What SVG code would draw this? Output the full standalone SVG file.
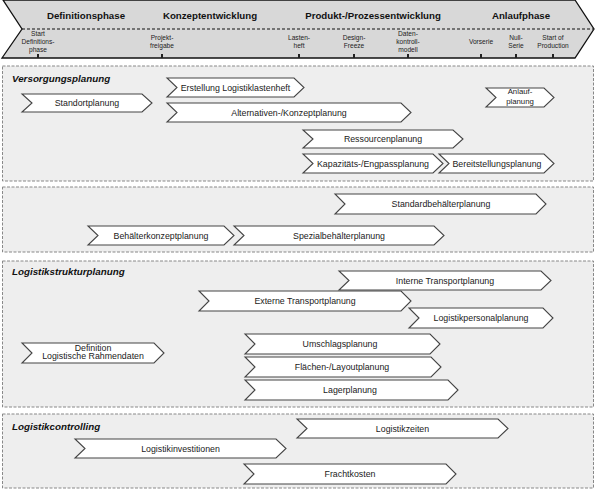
<svg xmlns="http://www.w3.org/2000/svg" width="596" height="490" viewBox="0 0 596 490">
<style>
.sec{fill:#eeeeee;stroke:#888888;stroke-width:1;stroke-dasharray:3 1.5}
.chev{fill:#ffffff;stroke:#444444;stroke-width:1.1}
.t{font-family:"Liberation Sans",Arial,sans-serif;font-size:8.8px;fill:#1a1a1a;text-anchor:middle}
.t2{font-size:7.8px}
.st{font-family:"Liberation Sans",Arial,sans-serif;font-size:9.8px;font-weight:bold;font-style:italic;fill:#111}
.ph{font-family:"Liberation Sans",Arial,sans-serif;font-size:9.7px;font-weight:bold;fill:#111;text-anchor:middle}
.ms{font-family:"Liberation Sans",Arial,sans-serif;font-size:6.6px;fill:#222;text-anchor:middle}
.tick{stroke:#222;stroke-width:2}
</style>
<rect width="596" height="490" fill="#ffffff"/>
<g id="header">
<polygon points="3,0 575,0 594,29 575,58 2,58 22,29" fill="#d8d8d8" stroke="#111" stroke-width="1.3"/>
<line x1="22" y1="29" x2="593" y2="29" stroke="#111" stroke-width="1" stroke-dasharray="3 2"/>
<text class="ph" x="86" y="18.5">Definitionsphase</text>
<text class="ph" x="210" y="18.5">Konzeptentwicklung</text>
<text class="ph" x="373" y="18.5">Produkt-/Prozessentwicklung</text>
<text class="ph" x="521" y="18.5">Anlaufphase</text>
</g>
<g id="milestones">
<g id="ms-start"><text class="ms" x="38" y="35.5">Start</text><text class="ms" x="38" y="43.5">Definitions-</text><text class="ms" x="38" y="51.5">phase</text><line class="tick" x1="38" y1="54" x2="38" y2="58"/></g>
<g id="ms-projekt"><text class="ms" x="162" y="39.5">Projekt-</text><text class="ms" x="162" y="47.5">freigabe</text><line class="tick" x1="162" y1="54" x2="162" y2="58"/></g>
<g id="ms-lasten"><text class="ms" x="299" y="39.5">Lasten-</text><text class="ms" x="299" y="47.5">heft</text><line class="tick" x1="299" y1="54" x2="299" y2="58"/></g>
<g id="ms-design"><text class="ms" x="354" y="39.5">Design-</text><text class="ms" x="354" y="47.5">Freeze</text><line class="tick" x1="354" y1="54" x2="354" y2="58"/></g>
<g id="ms-daten"><text class="ms" x="408" y="35.5">Daten-</text><text class="ms" x="408" y="43.5">kontroll-</text><text class="ms" x="408" y="51.5">modell</text><line class="tick" x1="408" y1="54" x2="408" y2="58"/></g>
<g id="ms-vorserie"><text class="ms" x="481" y="44">Vorserie</text><line class="tick" x1="481" y1="54" x2="481" y2="58"/></g>
<g id="ms-null"><text class="ms" x="516" y="39.5">Null-</text><text class="ms" x="516" y="47.5">Serie</text><line class="tick" x1="516" y1="54" x2="516" y2="58"/></g>
<g id="ms-sop"><text class="ms" x="553" y="39.5">Start of</text><text class="ms" x="553" y="47.5">Production</text><line class="tick" x1="553" y1="54" x2="553" y2="58"/></g>
</g>
<g id="sections">
<rect id="sec-versorgung" class="sec" x="2.5" y="66" width="591" height="115"/>
<rect id="sec-behaelter" class="sec" x="2.5" y="187" width="591" height="65"/>
<rect id="sec-struktur" class="sec" x="2.5" y="261" width="591" height="146"/>
<rect id="sec-controlling" class="sec" x="2.5" y="414" width="591" height="74"/>
<text class="st" x="12" y="82">Versorgungsplanung</text>
<text class="st" x="12" y="275">Logistikstrukturplanung</text>
<text class="st" x="12" y="430">Logistikcontrolling</text>
</g>
<g id="connectors"></g>
<g id="n-standort"><polygon class="chev" points="22,94 142,94 152,103 142,112 22,112 32,103"/><text class="t" x="87" y="106">Standortplanung</text></g>
<g id="n-lastenheft"><polygon class="chev" points="167,78 294,78 304,87.5 294,97 167,97 177,87.5"/><text class="t" x="235.5" y="90.5">Erstellung Logistiklastenheft</text></g>
<g id="n-alternativen"><polygon class="chev" points="167,103 401,103 411,112.5 401,122 167,122 177,112.5"/><text class="t" x="289" y="115.5">Alternativen-/Konzeptplanung</text></g>
<g id="n-anlauf"><polygon class="chev" points="486,88 544,88 554,97.5 544,107 486,107 496,97.5"/><text class="t t2" x="520" y="94.3">Anlauf-</text><text class="t t2" x="520" y="103.5">planung</text></g>
<g id="n-ressourcen"><polygon class="chev" points="303,130 453,130 463,139 453,148 303,148 313,139"/><text class="t" x="383" y="142">Ressourcenplanung</text></g>
<g id="n-kapazitaet"><polygon class="chev" points="303,154 433,154 443,163.5 433,173 303,173 313,163.5"/><text class="t" x="373" y="166.5">Kapazitäts-/Engpassplanung</text></g>
<g id="n-bereitstellung"><polygon class="chev" points="439,154 544,154 554,163.5 544,173 439,173 449,163.5"/><text class="t" x="497" y="166.5">Bereitstellungsplanung</text></g>
<g id="n-standardbeh"><polygon class="chev" points="335,194 536,194 546,204 536,214 335,214 345,204"/><text class="t" x="441" y="207">Standardbehälterplanung</text></g>
<g id="n-behkonzept"><polygon class="chev" points="88,226 224,226 234,235.5 224,245 88,245 98,235.5"/><text class="t" x="161" y="238.5">Behälterkonzeptplanung</text></g>
<g id="n-spezialbeh"><polygon class="chev" points="234,226 434,226 444,235.5 434,245 234,245 244,235.5"/><text class="t" x="339" y="238.5">Spezialbehälterplanung</text></g>
<g id="n-interne"><polygon class="chev" points="339,271 541,271 551,280.5 541,290 339,290 349,280.5"/><text class="t" x="445" y="283.5">Interne Transportplanung</text></g>
<g id="n-externe"><polygon class="chev" points="199,291 401,291 411,301 401,311 199,311 209,301"/><text class="t" x="305" y="304">Externe Transportplanung</text></g>
<g id="n-personal"><polygon class="chev" points="409,308 543,308 553,318 543,328 409,328 419,318"/><text class="t" x="481" y="321">Logistikpersonalplanung</text></g>
<g id="n-definition"><polygon class="chev" points="22,343 154,343 164,353 154,363 22,363 32,353"/><text class="t" x="93" y="350.5">Definition</text><text class="t" x="93" y="359">Logistische Rahmendaten</text></g>
<g id="n-umschlag"><polygon class="chev" points="245,334 430,334 440,344 430,354 245,354 255,344"/><text class="t" x="340" y="347">Umschlagsplanung</text></g>
<g id="n-flaechen"><polygon class="chev" points="245,357 431,357 441,367 431,377 245,377 255,367"/><text class="t" x="342" y="370">Flächen-/Layoutplanung</text></g>
<g id="n-lager"><polygon class="chev" points="245,380 448,380 458,390 448,400 245,400 255,390"/><text class="t" x="350" y="393">Lagerplanung</text></g>
<g id="n-zeiten"><polygon class="chev" points="297,419 498,419 508,428.5 498,438 297,438 307,428.5"/><text class="t" x="402.5" y="431.5">Logistikzeiten</text></g>
<g id="n-invest"><polygon class="chev" points="75,439 276,439 286,448.5 276,458 75,458 85,448.5"/><text class="t" x="180.5" y="451.5">Logistikinvestitionen</text></g>
<g id="n-fracht"><polygon class="chev" points="244,464 446,464 456,474 446,484 244,484 254,474"/><text class="t" x="350" y="477">Frachtkosten</text></g>
</svg>
